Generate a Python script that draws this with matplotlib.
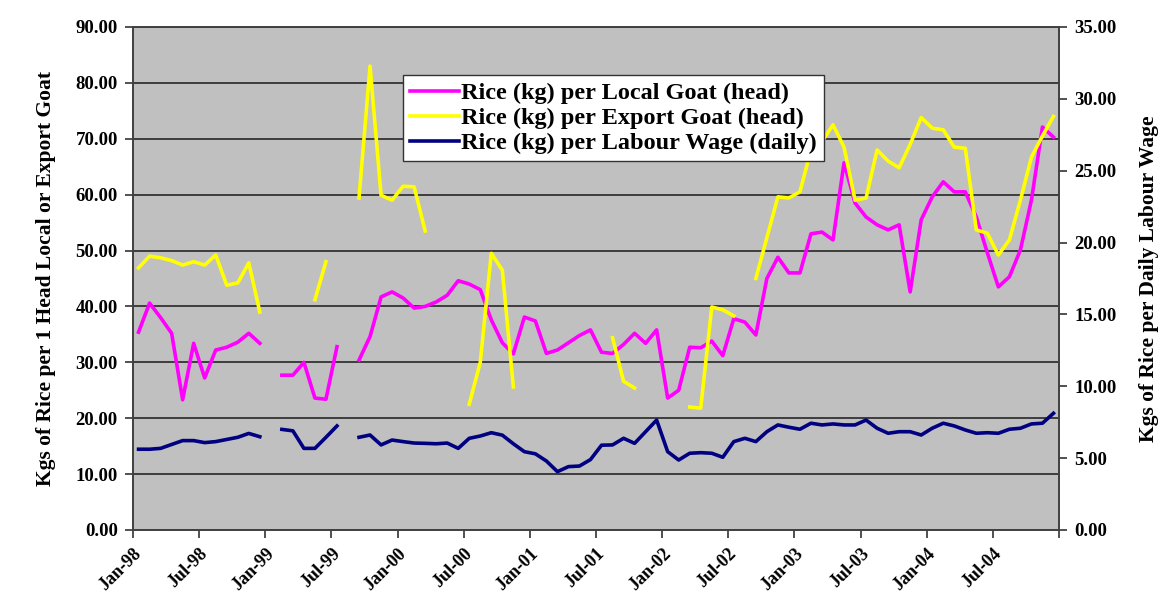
import numpy as np
import matplotlib
matplotlib.use("Agg")
from matplotlib import pyplot as plt

nan = np.nan

# monthly series, Jan-98 .. Dec-04 (84 months), gaps where no market data
local_goat = [35.4, 40.6, 38.0, 35.2, 23.3, 33.4, 27.2, 32.2, 32.7, 33.6, 35.2, 33.4,
              nan, 27.7, 27.7, 30.0, 23.6, 23.4, 32.8, nan, 30.4, 34.6, 41.7, 42.6,
              41.5, 39.7, 40.0, 40.8, 42.0, 44.6, 44.0, 43.0, 37.6, 33.5, 31.5, 38.1,
              37.4, 31.6, 32.2, 33.5, 34.8, 35.8, 31.8, 31.6, 33.2, 35.2, 33.4, 35.8,
              23.6, 25.0, 32.7, 32.6, 33.8, 31.2, 37.8, 37.2, 34.9, 45.0, 48.8, 46.0,
              46.0, 53.0, 53.3, 51.9, 65.7, 58.5, 56.0, 54.6, 53.7, 54.6, 42.6, 55.5,
              59.6, 62.3, 60.5, 60.5, 56.0, 49.6, 43.5, 45.3, 50.1, 59.0, 72.1, 70.3]

export_goat = [46.9, 49.0, 48.7, 48.2, 47.4, 48.0, 47.4, 49.2, 43.8, 44.2, 47.8, 39.0,
               nan, nan, nan, nan, 41.2, 48.0, nan, nan, 59.4, 83.0, 59.9, 59.0,
               61.5, 61.4, 53.5, nan, nan, nan, 22.5, 30.0, 49.5, 46.5, 25.6, nan,
               nan, nan, nan, nan, nan, nan, nan, 34.4, 26.6, 25.4, nan, nan,
               nan, nan, 22.0, 21.8, 39.9, 39.4, 38.3, nan, 45.0, 52.3, 59.6, 59.4,
               60.5, 68.0, 69.5, 72.5, 68.5, 59.0, 59.4, 68.0, 66.0, 64.8, 69.0, 73.8,
               71.9, 71.6, 68.5, 68.3, 53.7, 53.1, 49.2, 51.9, 59.0, 66.7, 70.5, 74.0]

labour_wage = [5.62, 5.62, 5.68, 5.95, 6.22, 6.22, 6.08, 6.15, 6.30, 6.45, 6.72, 6.49,
               nan, 7.00, 6.90, 5.68, 5.68, 6.45, 7.24, nan, 6.45, 6.61, 5.92, 6.26,
               6.15, 6.05, 6.03, 6.00, 6.05, 5.68, 6.38, 6.54, 6.77, 6.60, 6.00, 5.45,
               5.30, 4.80, 4.06, 4.41, 4.45, 4.90, 5.90, 5.92, 6.38, 6.03, 6.84, 7.65,
               5.45, 4.87, 5.34, 5.38, 5.34, 5.06, 6.15, 6.38, 6.15, 6.84, 7.31, 7.15,
               7.01, 7.43, 7.31, 7.38, 7.31, 7.31, 7.65, 7.08, 6.73, 6.84, 6.84, 6.61,
               7.08, 7.43, 7.24, 6.96, 6.73, 6.77, 6.73, 7.01, 7.08, 7.38, 7.43, 8.12]

tick_labels = ["Jan-98", "Jul-98", "Jan-99", "Jul-99", "Jan-00", "Jul-00", "Jan-01",
               "Jul-01", "Jan-02", "Jul-02", "Jan-03", "Jul-03", "Jan-04", "Jul-04", ""]

plt.rcParams["font.family"] = ["Liberation Serif", "DejaVu Serif"]
plt.rcParams["font.weight"] = "bold"

n = len(local_goat)
x = np.arange(n) + 0.5   # points sit in the middle of each month

fig = plt.figure(figsize=(11.65, 6.13), dpi=100)
ax = fig.add_axes([0.1142, 0.1354, 0.7948, 0.8206])
ax.set_facecolor("#c0c0c0")

l1, = ax.plot(x, local_goat, color="#ff00ff", lw=2.6, label="Rice (kg) per Local Goat (head)")
l2, = ax.plot(x, export_goat, color="#ffff00", lw=2.6, label="Rice (kg) per Export Goat (head)")

ax.set_xlim(0, n)
ax.set_ylim(0, 90)
ax.set_yticks(np.arange(0, 91, 10))
ax.set_yticklabels(["%.2f" % v for v in np.arange(0, 91, 10)], fontsize=13.5)
ax.yaxis.grid(True, color="#333333", lw=1.3)
ax.set_axisbelow(True)
ax.set_xticks(np.arange(0, n + 1, 6))
ax.set_xticklabels(tick_labels, rotation=45, ha="right", rotation_mode="anchor", fontsize=13)
ax.tick_params(axis="both", direction="out", length=6, width=1.2, color="#333333", pad=5)
ax.set_ylabel("Kgs of Rice per 1 Head Local or Export Goat", fontsize=15.5,
              fontweight="bold", labelpad=14)

ax2 = ax.twinx()
l3, = ax2.plot(x, labour_wage, color="#000080", lw=2.6, label="Rice (kg) per Labour Wage (daily)")
ax2.set_ylim(0, 35)
ax2.set_yticks(np.arange(0, 36, 5))
ax2.set_yticklabels(["%.2f" % v for v in np.arange(0, 36, 5)], fontsize=13.5)
ax2.tick_params(axis="y", direction="out", length=6, width=1.2, color="#333333", pad=5)
ax2.set_ylabel("Kgs of Rice per Daily Labour Wage", fontsize=15.5,
               fontweight="bold", labelpad=16)

for a in (ax, ax2):
    for s in a.spines.values():
        s.set_color("#404040")
        s.set_linewidth(1.2)

leg = ax.legend(handles=[l1, l2, l3], loc="upper left", bbox_to_anchor=(0.2916, 0.9046),
                fontsize=17.5, frameon=True, fancybox=False, framealpha=1,
                edgecolor="#333333", handlelength=2.0, handletextpad=0.1,
                borderpad=0.3, labelspacing=0.12, borderaxespad=0)
leg.get_frame().set_linewidth(1.0)

fig.savefig("out.png", dpi=100, facecolor="white")
